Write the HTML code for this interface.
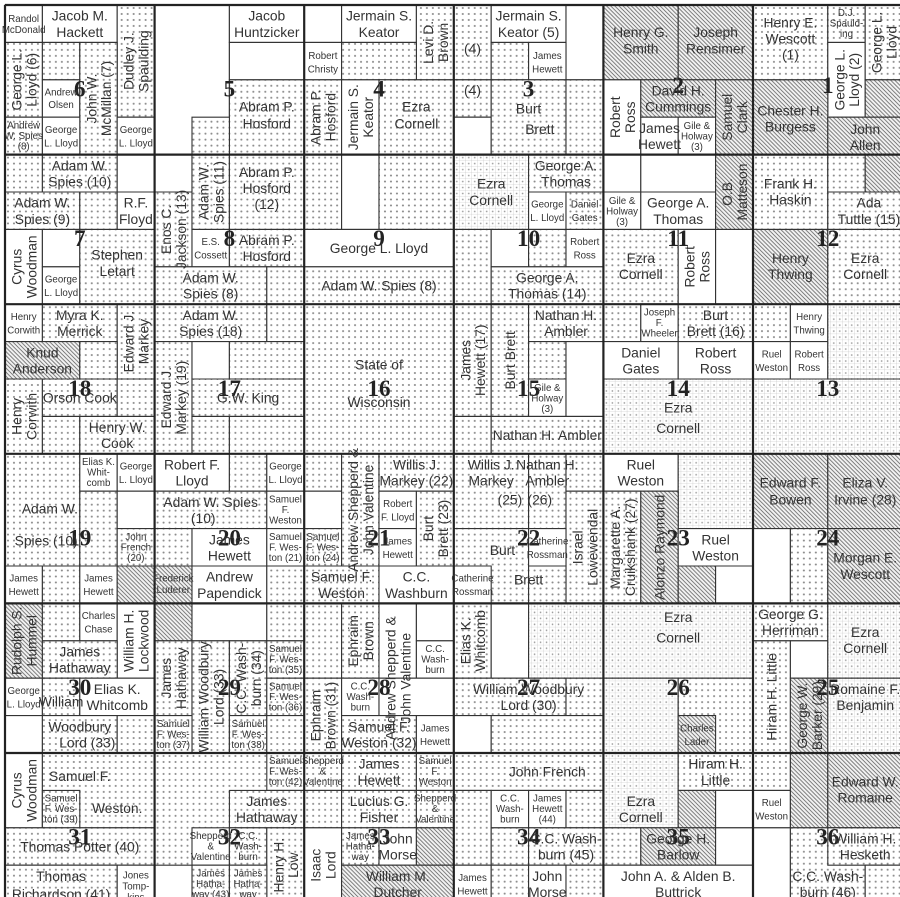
<!DOCTYPE html>
<html><head><meta charset="utf-8">
<style>
html,body{margin:0;padding:0;background:#fff;}
svg{display:block;}
text{font-family:"Liberation Sans",sans-serif;fill:#333;}
.t{font-size:0.37px;}
.s{font-size:0.26px;}
.n{font-family:"Liberation Serif",serif;font-size:0.62px;font-weight:bold;fill:#222;}
.d{fill:url(#pd);}
.h{fill:url(#ph);}
.g{fill:url(#pg);}
.w{fill:#fff;}
rect{stroke:#333;stroke-width:1.1px;vector-effect:non-scaling-stroke;}
line{stroke:#222;stroke-width:2.2px;vector-effect:non-scaling-stroke;}
</style></head><body>
<svg width="900" height="897" viewBox="0 0 900 897" xmlns="http://www.w3.org/2000/svg">
<defs>
<pattern id="pd" patternUnits="userSpaceOnUse" width="0.16" height="0.16"><rect x="0" y="0" width="0.16" height="0.16" fill="#fff" style="stroke:none"/><circle cx="0.08" cy="0.08" r="0.028" fill="#8a8a8a"/></pattern>
<pattern id="pg" patternUnits="userSpaceOnUse" width="0.16" height="0.16"><rect x="0" y="0" width="0.16" height="0.16" fill="#fff" style="stroke:none"/><path d="M0 0.16H0.16M0.16 0V0.16" stroke="#bbb" stroke-width="0.015" fill="none"/><circle cx="0.08" cy="0.08" r="0.022" fill="#999"/></pattern>
<pattern id="ph" patternUnits="userSpaceOnUse" width="0.11" height="0.11"><rect x="0" y="0" width="0.11" height="0.11" fill="#f2f2f2" style="stroke:none"/><path d="M-0.03 -0.03L0.14 0.14M-0.03 0.08L0.03 0.14M0.08 -0.03L0.14 0.03" stroke="#666" stroke-width="0.022" fill="none"/></pattern>
</defs>
<rect x="0" y="0" width="900" height="897" fill="#fff" style="stroke:none"/>
<g transform="translate(5,5) scale(37.4)">
<!-- sec 6 -->
<rect class="w" x="0" y="0" width="1" height="1"/><rect class="w" x="1" y="0" width="2" height="1"/><rect class="d" x="3" y="0" width="1" height="3"/><rect class="d" x="0" y="1" width="1" height="2"/><rect class="d" x="1" y="1" width="1" height="1"/><rect class="w" x="1" y="2" width="1" height="1"/><rect class="d" x="2" y="1" width="1" height="3"/><rect class="d" x="0" y="3" width="1" height="1"/><rect class="w" x="1" y="3" width="1" height="1"/><rect class="w" x="3" y="3" width="1" height="1"/>
<!-- sec 5 -->
<rect class="w" x="4" y="0" width="2" height="4"/><rect class="w" x="6" y="0" width="2" height="1"/><rect class="w" x="6" y="1" width="2" height="1"/><rect class="d" x="6" y="2" width="2" height="2"/><rect class="d" x="5" y="3" width="1" height="1"/>
<!-- sec 4 -->
<rect class="w" x="8" y="0" width="1" height="1"/><rect class="w" x="9" y="0" width="2" height="1"/><rect class="d" x="11" y="0" width="1" height="2"/><rect class="w" x="8" y="1" width="1" height="1"/><rect class="d" x="9" y="1" width="2" height="1"/><rect class="d" x="8" y="2" width="1" height="2"/><rect class="w" x="9" y="2" width="1" height="2"/><rect class="d" x="10" y="2" width="2" height="2"/>
<!-- sec 3 -->
<rect class="d" x="12" y="0" width="1" height="2"/><rect class="w" x="13" y="0" width="2" height="1"/><rect class="w" x="15" y="0" width="1" height="2"/><rect class="d" x="13" y="1" width="1" height="1"/><rect class="w" x="14" y="1" width="1" height="1"/><rect class="d" x="12" y="2" width="1" height="1"/><rect class="w" x="12" y="3" width="1" height="1"/><rect class="d" x="13" y="2" width="2" height="2"/><rect class="d" x="15" y="2" width="1" height="2"/>
<!-- sec 2 -->
<rect class="h" x="16" y="0" width="2" height="2"/><rect class="h" x="18" y="0" width="2" height="2"/><rect class="w" x="16" y="2" width="1" height="2"/><rect class="h" x="17" y="2" width="2" height="1"/><rect class="w" x="17" y="3" width="1" height="1"/><rect class="w" x="18" y="3" width="1" height="1"/><rect class="h" x="19" y="2" width="1" height="2"/>
<!-- sec 1 -->
<rect class="d" x="20" y="0" width="2" height="2"/><rect class="d" x="22" y="0" width="1" height="1"/><rect class="w" x="22" y="1" width="1" height="2"/><rect class="d" x="23" y="0" width="1" height="2"/><rect class="h" x="20" y="2" width="2" height="2"/><rect class="h" x="23" y="2" width="1" height="1"/><rect class="h" x="22" y="3" width="2" height="1"/>
<!-- sec 7 -->
<rect class="d" x="0" y="4" width="1" height="1"/><rect class="d" x="1" y="4" width="2" height="1"/><rect class="w" x="3" y="4" width="1" height="1"/><rect class="d" x="0" y="5" width="2" height="1"/><rect class="d" x="2" y="5" width="1" height="1"/><rect class="w" x="3" y="5" width="1" height="1"/><rect class="w" x="0" y="6" width="1" height="2"/><rect class="w" x="1" y="6" width="1" height="1"/><rect class="w" x="1" y="7" width="1" height="1"/><rect class="d" x="2" y="6" width="2" height="2"/>
<!-- sec 8 -->
<rect class="w" x="4" y="4" width="1" height="1"/><rect class="d" x="4" y="5" width="1" height="2"/><rect class="d" x="5" y="4" width="1" height="2"/><rect class="d" x="6" y="4" width="2" height="2"/><rect class="w" x="5" y="6" width="1" height="1"/><rect class="d" x="6" y="6" width="2" height="1"/><rect class="d" x="4" y="7" width="3" height="1"/><rect class="d" x="7" y="7" width="1" height="1"/>
<!-- sec 9 -->
<rect class="d" x="8" y="4" width="1" height="2"/><rect class="w" x="9" y="4" width="1" height="2"/><rect class="d" x="10" y="4" width="2" height="2"/><rect class="w" x="8" y="6" width="4" height="1"/><rect class="d" x="8" y="7" width="4" height="1"/>
<!-- sec 10 -->
<rect class="g" x="12" y="4" width="2" height="2"/><rect class="d" x="14" y="4" width="2" height="1"/><rect class="w" x="14" y="5" width="1" height="1"/><rect class="d" x="15" y="5" width="1" height="1"/><rect class="d" x="12" y="6" width="1" height="2"/><rect class="w" x="13" y="6" width="1" height="1"/><rect class="d" x="14" y="6" width="1" height="1"/><rect class="w" x="15" y="6" width="1" height="1"/><rect class="d" x="13" y="7" width="3" height="1"/>
<!-- sec 11 -->
<rect class="w" x="16" y="4" width="1" height="1"/><rect class="w" x="17" y="4" width="2" height="1"/><rect class="w" x="16" y="5" width="1" height="1"/><rect class="w" x="17" y="5" width="2" height="1"/><rect class="h" x="19" y="4" width="1" height="2"/><rect class="d" x="16" y="6" width="2" height="2"/><rect class="w" x="18" y="6" width="1" height="2"/><rect class="w" x="19" y="6" width="1" height="2"/>
<!-- sec 12 -->
<rect class="d" x="20" y="4" width="2" height="2"/><rect class="d" x="22" y="4" width="1" height="1"/><rect class="h" x="23" y="4" width="1" height="1"/><rect class="d" x="22" y="5" width="2" height="1"/><rect class="h" x="20" y="6" width="2" height="2"/><rect class="d" x="22" y="6" width="2" height="2"/>
<!-- sec 18 -->
<rect class="w" x="0" y="8" width="1" height="1"/><rect class="d" x="1" y="8" width="2" height="1"/><rect class="d" x="3" y="8" width="1" height="2"/><rect class="h" x="0" y="9" width="2" height="1"/><rect class="d" x="2" y="9" width="1" height="1"/><rect class="d" x="0" y="10" width="1" height="2"/><rect class="d" x="1" y="10" width="2" height="1"/><rect class="d" x="3" y="10" width="1" height="1"/><rect class="d" x="1" y="11" width="1" height="1"/><rect class="d" x="2" y="11" width="2" height="1"/>
<!-- sec 17 -->
<rect class="d" x="4" y="8" width="3" height="1"/><rect class="d" x="7" y="8" width="1" height="1"/><rect class="d" x="4" y="9" width="1" height="3"/><rect class="w" x="5" y="9" width="1" height="1"/><rect class="d" x="6" y="9" width="2" height="1"/><rect class="d" x="5" y="10" width="3" height="1"/><rect class="d" x="5" y="11" width="1" height="1"/><rect class="d" x="6" y="11" width="2" height="1"/>
<!-- sec 16 -->
<rect class="d" x="8" y="8" width="4" height="4"/>
<!-- sec 15 -->
<rect class="d" x="12" y="8" width="1" height="3"/><rect class="d" x="13" y="8" width="1" height="3"/><rect class="d" x="14" y="8" width="2" height="1"/><rect class="d" x="14" y="9" width="1" height="1"/><rect class="w" x="14" y="10" width="1" height="1"/><rect class="w" x="15" y="9" width="1" height="2"/><rect class="d" x="12" y="11" width="1" height="1"/><rect class="d" x="13" y="11" width="3" height="1"/>
<!-- sec 14 -->
<rect class="d" x="16" y="8" width="1" height="1"/><rect class="w" x="17" y="8" width="1" height="1"/><rect class="d" x="18" y="8" width="2" height="1"/><rect class="w" x="16" y="9" width="2" height="1"/><rect class="w" x="18" y="9" width="2" height="1"/><rect class="g" x="16" y="10" width="4" height="2"/>
<!-- sec 13 -->
<rect class="d" x="20" y="8" width="1" height="1"/><rect class="w" x="21" y="8" width="1" height="1"/><rect class="w" x="20" y="9" width="1" height="1"/><rect class="w" x="21" y="9" width="1" height="1"/><rect class="g" x="22" y="8" width="2" height="2"/><rect class="g" x="20" y="10" width="4" height="2"/>
<!-- sec 19 -->
<rect class="d" x="0" y="12" width="2" height="3"/><rect class="w" x="2" y="12" width="1" height="1"/><rect class="w" x="3" y="12" width="1" height="1"/><rect class="d" x="2" y="13" width="1" height="2"/><rect class="w" x="3" y="13" width="1" height="1"/><rect class="d" x="3" y="14" width="1" height="1"/><rect class="w" x="0" y="15" width="1" height="1"/><rect class="d" x="1" y="15" width="1" height="1"/><rect class="w" x="2" y="15" width="1" height="1"/><rect class="h" x="3" y="15" width="1" height="1"/>
<!-- sec 20 -->
<rect class="w" x="4" y="12" width="2" height="1"/><rect class="d" x="6" y="12" width="1" height="1"/><rect class="w" x="7" y="12" width="1" height="1"/><rect class="d" x="4" y="13" width="3" height="1"/><rect class="w" x="7" y="13" width="1" height="1"/><rect class="d" x="4" y="14" width="1" height="1"/><rect class="w" x="5" y="14" width="2" height="1"/><rect class="w" x="7" y="14" width="1" height="1"/><rect class="h" x="4" y="15" width="1" height="1"/><rect class="w" x="5" y="15" width="2" height="1"/><rect class="d" x="7" y="15" width="1" height="1"/>
<!-- sec 21 -->
<rect class="d" x="8" y="12" width="1" height="1"/><rect class="w" x="8" y="13" width="1" height="1"/><rect class="d" x="8" y="14" width="1" height="1"/><rect class="d" x="9" y="12" width="1" height="3"/><rect class="d" x="10" y="12" width="2" height="1"/><rect class="w" x="10" y="13" width="1" height="1"/><rect class="w" x="10" y="14" width="1" height="1"/><rect class="d" x="11" y="13" width="1" height="2"/><rect class="d" x="8" y="15" width="2" height="1"/><rect class="w" x="10" y="15" width="2" height="1"/>
<!-- sec 22 -->
<rect class="d" x="12" y="12" width="2" height="2"/><rect class="d" x="14" y="12" width="1" height="2"/><rect class="d" x="15" y="12" width="1" height="1"/><rect class="d" x="15" y="13" width="1" height="3"/><rect class="d" x="12" y="14" width="2" height="2"/><rect class="w" x="14" y="14" width="1" height="1"/><rect class="d" x="14" y="15" width="1" height="1"/><rect class="w" x="12" y="15" width="1" height="1"/>
<!-- sec 23 -->
<rect class="w" x="16" y="12" width="2" height="1"/><rect class="g" x="18" y="12" width="2" height="2"/><rect class="d" x="16" y="13" width="1" height="3"/><rect class="h" x="17" y="13" width="1" height="3"/><rect class="w" x="18" y="14" width="2" height="1"/><rect class="h" x="18" y="15" width="1" height="1"/><rect class="w" x="19" y="15" width="1" height="1"/>
<!-- sec 24 -->
<rect class="h" x="20" y="12" width="2" height="2"/><rect class="h" x="22" y="12" width="2" height="2"/><rect class="w" x="20" y="14" width="1" height="2"/><rect class="d" x="21" y="14" width="1" height="2"/><rect class="h" x="22" y="14" width="2" height="2"/>
<!-- sec 30 -->
<rect class="h" x="0" y="16" width="1" height="2"/><rect class="d" x="1" y="16" width="1" height="1"/><rect class="w" x="2" y="16" width="1" height="1"/><rect class="w" x="3" y="16" width="1" height="2"/><rect class="d" x="1" y="17" width="2" height="1"/><rect class="w" x="0" y="18" width="1" height="1"/><rect class="d" x="1" y="18" width="1" height="1"/><rect class="w" x="2" y="18" width="2" height="1"/><rect class="w" x="0" y="19" width="1" height="1"/><rect class="d" x="1" y="19" width="2" height="1"/><rect class="d" x="3" y="19" width="1" height="1"/>
<!-- sec 29 -->
<rect class="h" x="4" y="16" width="1" height="1"/><rect class="w" x="5" y="16" width="2" height="1"/><rect class="d" x="7" y="16" width="1" height="1"/><rect class="d" x="4" y="17" width="1" height="2"/><rect class="d" x="5" y="17" width="1" height="3"/><rect class="d" x="6" y="17" width="1" height="2"/><rect class="d" x="7" y="17" width="1" height="1"/><rect class="d" x="7" y="18" width="1" height="1"/><rect class="d" x="4" y="19" width="1" height="1"/><rect class="d" x="6" y="19" width="1" height="1"/><rect class="d" x="7" y="19" width="1" height="1"/>
<!-- sec 28 -->
<rect class="d" x="8" y="16" width="1" height="2"/><rect class="d" x="9" y="16" width="1" height="2"/><rect class="w" x="10" y="16" width="1" height="2"/><rect class="w" x="11" y="16" width="1" height="1"/><rect class="w" x="11" y="17" width="1" height="1"/><rect class="d" x="8" y="18" width="1" height="2"/><rect class="w" x="9" y="18" width="1" height="1"/><rect class="w" x="10" y="18" width="2" height="1"/><rect class="d" x="9" y="19" width="2" height="1"/><rect class="w" x="11" y="19" width="1" height="1"/>
<!-- sec 27 -->
<rect class="d" x="12" y="16" width="1" height="2"/><rect class="w" x="13" y="16" width="1" height="2"/><rect class="g" x="14" y="16" width="2" height="2"/><rect class="d" x="12" y="18" width="3" height="1"/><rect class="d" x="15" y="18" width="1" height="1"/><rect class="w" x="12" y="19" width="1" height="1"/><rect class="d" x="13" y="19" width="3" height="1"/>
<!-- sec 26 -->
<rect class="g" x="16" y="16" width="4" height="2"/><rect class="g" x="16" y="18" width="2" height="2"/><rect class="d" x="18" y="18" width="2" height="2"/><rect class="h" x="18" y="19" width="1" height="1"/>
<!-- sec 25 -->
<rect class="d" x="20" y="16" width="2" height="1"/><rect class="d" x="20" y="17" width="1" height="3"/><rect class="w" x="21" y="17" width="1" height="1"/><rect class="h" x="21" y="18" width="1" height="2"/><rect class="g" x="22" y="16" width="2" height="2"/><rect class="g" x="22" y="18" width="2" height="2"/>
<!-- sec 31 -->
<rect class="w" x="0" y="20" width="1" height="2"/><rect class="d" x="1" y="20" width="3" height="2"/><rect class="d" x="1" y="21" width="1" height="1"/><rect class="d" x="0" y="22" width="4" height="1"/><rect class="d" x="0" y="23" width="3" height="1"/><rect class="w" x="3" y="23" width="1" height="1"/>
<!-- sec 32 -->
<rect class="d" x="4" y="20" width="4" height="4"/><rect class="d" x="7" y="20" width="1" height="1"/><rect class="d" x="6" y="21" width="2" height="1"/><rect class="w" x="5" y="22" width="1" height="1"/><rect class="d" x="6" y="22" width="1" height="1"/><rect class="d" x="7" y="22" width="1" height="2"/><rect class="d" x="5" y="23" width="1" height="1"/><rect class="d" x="6" y="23" width="1" height="1"/><rect class="w" x="4" y="23" width="1" height="1"/>
<!-- sec 33 -->
<rect class="d" x="8" y="20" width="1" height="1"/><rect class="d" x="9" y="20" width="2" height="1"/><rect class="d" x="11" y="20" width="1" height="1"/><rect class="d" x="8" y="21" width="1" height="1"/><rect class="d" x="9" y="21" width="2" height="1"/><rect class="d" x="11" y="21" width="1" height="1"/><rect class="w" x="8" y="22" width="1" height="2"/><rect class="d" x="9" y="22" width="1" height="1"/><rect class="w" x="10" y="22" width="1" height="1"/><rect class="h" x="11" y="22" width="1" height="1"/><rect class="h" x="9" y="23" width="3" height="1"/>
<!-- sec 34 -->
<rect class="d" x="12" y="20" width="4" height="1"/><rect class="d" x="12" y="21" width="1" height="2"/><rect class="w" x="13" y="21" width="1" height="1"/><rect class="w" x="14" y="21" width="1" height="1"/><rect class="d" x="15" y="21" width="1" height="1"/><rect class="d" x="13" y="22" width="1" height="1"/><rect class="d" x="14" y="22" width="2" height="1"/><rect class="w" x="12" y="23" width="1" height="1"/><rect class="d" x="13" y="23" width="1" height="1"/><rect class="w" x="14" y="23" width="1" height="1"/><rect class="d" x="15" y="23" width="1" height="1"/>
<!-- sec 35 -->
<rect class="g" x="16" y="20" width="2" height="2"/><rect class="d" x="18" y="20" width="2" height="1"/><rect class="h" x="18" y="21" width="1" height="1"/><rect class="w" x="19" y="21" width="1" height="1"/><rect class="d" x="16" y="22" width="1" height="1"/><rect class="h" x="17" y="22" width="2" height="1"/><rect class="w" x="19" y="22" width="1" height="1"/><rect class="w" x="16" y="23" width="4" height="1"/>
<!-- sec 36 -->
<rect class="d" x="20" y="20" width="1" height="1"/><rect class="w" x="20" y="21" width="1" height="1"/><rect class="h" x="21" y="20" width="1" height="2"/><rect class="h" x="22" y="20" width="2" height="2"/><rect class="w" x="20" y="22" width="1" height="2"/><rect class="d" x="21" y="22" width="2" height="2"/><rect class="d" x="22" y="22" width="2" height="1"/><rect class="d" x="23" y="23" width="1" height="1"/>

<!-- section lines -->
<line x1="0" y1="0" x2="24" y2="0"/><line x1="0" y1="4" x2="24" y2="4"/><line x1="0" y1="8" x2="24" y2="8"/><line x1="0" y1="12" x2="24" y2="12"/><line x1="0" y1="16" x2="24" y2="16"/><line x1="0" y1="20" x2="24" y2="20"/>
<line x1="0" y1="0" x2="0" y2="24"/><line x1="4" y1="0" x2="4" y2="24"/><line x1="8" y1="0" x2="8" y2="24"/><line x1="12" y1="0" x2="12" y2="24"/><line x1="16" y1="0" x2="16" y2="24"/><line x1="20" y1="0" x2="20" y2="24"/><line x1="24" y1="0" x2="24" y2="24"/>

<!-- section numbers -->
<g text-anchor="middle">
<text class="n" x="2" y="2.45">6</text><text class="n" x="6" y="2.45">5</text><text class="n" x="10" y="2.45">4</text><text class="n" x="14" y="2.45">3</text><text class="n" x="18" y="2.35">2</text><text class="n" x="22" y="2.35">1</text>
<text class="n" x="2" y="6.45">7</text><text class="n" x="6" y="6.45">8</text><text class="n" x="10" y="6.45">9</text><text class="n" x="14" y="6.45">10</text><text class="n" x="18" y="6.45">11</text><text class="n" x="22" y="6.45">12</text>
<text class="n" x="2" y="10.45">18</text><text class="n" x="6" y="10.45">17</text><text class="n" x="10" y="10.45">16</text><text class="n" x="14" y="10.45">15</text><text class="n" x="18" y="10.45">14</text><text class="n" x="22" y="10.45">13</text>
<text class="n" x="2" y="14.45">19</text><text class="n" x="6" y="14.45">20</text><text class="n" x="10" y="14.45">21</text><text class="n" x="14" y="14.45">22</text><text class="n" x="18" y="14.45">23</text><text class="n" x="22" y="14.45">24</text>
<text class="n" x="2" y="18.45">30</text><text class="n" x="6" y="18.45">29</text><text class="n" x="10" y="18.45">28</text><text class="n" x="14" y="18.45">27</text><text class="n" x="18" y="18.45">26</text><text class="n" x="22" y="18.45">25</text>
<text class="n" x="2" y="22.45">31</text><text class="n" x="6" y="22.45">32</text><text class="n" x="10" y="22.45">33</text><text class="n" x="14" y="22.45">34</text><text class="n" x="18" y="22.45">35</text><text class="n" x="22" y="22.45">36</text>
</g>

<!-- labels -->
<g text-anchor="middle">
<!-- sec6 -->
<text class="s"><tspan x="0.5" y="0.45">Randol</tspan><tspan x="0.5" y="0.75">McDonald</tspan></text>
<text class="t"><tspan x="2" y="0.42">Jacob M.</tspan><tspan x="2" y="0.85">Hackett</tspan></text>
<text class="t" transform="translate(3.5,1.5) rotate(-90)"><tspan x="0" y="-0.06">Dudley J.</tspan><tspan x="0" y="0.34">Spaulding</tspan></text>
<text class="t" transform="translate(0.5,2) rotate(-90)"><tspan x="0" y="-0.06">George L.</tspan><tspan x="0" y="0.34">Lloyd (6)</tspan></text>
<text class="s"><tspan x="1.5" y="2.42">Andrew</tspan><tspan x="1.5" y="2.75">Olsen</tspan></text>
<text class="t" transform="translate(2.5,2.5) rotate(-90)"><tspan x="0" y="-0.06">John W.</tspan><tspan x="0" y="0.34">McMillan (7)</tspan></text>
<text class="s"><tspan x="0.5" y="3.3">Andrew</tspan><tspan x="0.5" y="3.58">W. Spies</tspan><tspan x="0.5" y="3.86">(8)</tspan></text>
<text class="s"><tspan x="1.5" y="3.42">George</tspan><tspan x="1.5" y="3.78">L. Lloyd</tspan></text>
<text class="s"><tspan x="3.5" y="3.42">George</tspan><tspan x="3.5" y="3.78">L. Lloyd</tspan></text>
<!-- sec5 -->
<text class="t"><tspan x="7" y="0.42">Jacob</tspan><tspan x="7" y="0.85">Huntzicker</tspan></text>
<text class="t"><tspan x="7" y="2.85">Abram P.</tspan><tspan x="7" y="3.3">Hosford</tspan></text>
<!-- sec4 -->
<text class="t"><tspan x="10" y="0.42">Jermain S.</tspan><tspan x="10" y="0.85">Keator</tspan></text>
<text class="t" transform="translate(11.5,1) rotate(-90)"><tspan x="0" y="-0.06">Levi D.</tspan><tspan x="0" y="0.34">Brown</tspan></text>
<text class="s"><tspan x="8.5" y="1.45">Robert</tspan><tspan x="8.5" y="1.8">Christy</tspan></text>
<text class="t" transform="translate(8.5,3) rotate(-90)"><tspan x="0" y="-0.06">Abram P.</tspan><tspan x="0" y="0.34">Hosford</tspan></text>
<text class="t" transform="translate(9.5,3) rotate(-90)"><tspan x="0" y="-0.06">Jermain S.</tspan><tspan x="0" y="0.34">Keator</tspan></text>
<text class="t"><tspan x="11" y="2.85">Ezra</tspan><tspan x="11" y="3.3">Cornell</tspan></text>
<!-- sec3 -->
<text class="t" x="12.5" y="1.3">(4)</text><text class="t" x="12.5" y="2.4">(4)</text>
<text class="t"><tspan x="14" y="0.42">Jermain S.</tspan><tspan x="14" y="0.85">Keator (5)</tspan></text>
<text class="s"><tspan x="14.5" y="1.45">James</tspan><tspan x="14.5" y="1.8">Hewett</tspan></text>
<text class="t"><tspan x="14" y="2.9">Burt</tspan><tspan x="14.3" y="3.45">Brett</tspan></text>
<!-- sec2 -->
<text class="t"><tspan x="17" y="0.85">Henry G.</tspan><tspan x="17" y="1.3">Smith</tspan></text>
<text class="t"><tspan x="19" y="0.85">Joseph</tspan><tspan x="19" y="1.3">Rensimer</tspan></text>
<text class="t" transform="translate(16.5,3) rotate(-90)"><tspan x="0" y="-0.06">Robert</tspan><tspan x="0" y="0.34">Ross</tspan></text>
<text class="t"><tspan x="18" y="2.42">David H.</tspan><tspan x="18" y="2.85">Cummings</tspan></text>
<text class="t"><tspan x="17.5" y="3.42">James</tspan><tspan x="17.5" y="3.85">Hewett</tspan></text>
<text class="s"><tspan x="18.5" y="3.32">Gile &amp;</tspan><tspan x="18.5" y="3.6">Holway</tspan><tspan x="18.5" y="3.88">(3)</tspan></text>
<text class="t" transform="translate(19.5,3) rotate(-90)"><tspan x="0" y="-0.06">Samuel</tspan><tspan x="0" y="0.34">Clark</tspan></text>
<!-- sec1 -->
<text class="t"><tspan x="21" y="0.6">Henry E.</tspan><tspan x="21" y="1.03">Wescott</tspan><tspan x="21" y="1.46">(1)</tspan></text>
<text class="s"><tspan x="22.5" y="0.3">D.J.</tspan><tspan x="22.5" y="0.58">Spauld-</tspan><tspan x="22.5" y="0.86">ing</tspan></text>
<text class="t" transform="translate(22.5,2) rotate(-90)"><tspan x="0" y="-0.06">George L.</tspan><tspan x="0" y="0.34">Lloyd (2)</tspan></text>
<text class="t" transform="translate(23.5,1) rotate(-90)"><tspan x="0" y="-0.06">George L.</tspan><tspan x="0" y="0.34">Lloyd</tspan></text>
<text class="t"><tspan x="21" y="2.95">Chester H.</tspan><tspan x="21" y="3.38">Burgess</tspan></text>
<text class="t"><tspan x="23" y="3.45">John</tspan><tspan x="23" y="3.88">Allen</tspan></text>
<!-- sec7 -->
<text class="t"><tspan x="2" y="4.42">Adam W.</tspan><tspan x="2" y="4.85">Spies (10)</tspan></text>
<text class="t"><tspan x="1" y="5.42">Adam W.</tspan><tspan x="1" y="5.85">Spies (9)</tspan></text>
<text class="t"><tspan x="3.5" y="5.42">R.F.</tspan><tspan x="3.5" y="5.85">Floyd</tspan></text>
<text class="t" transform="translate(0.5,7) rotate(-90)"><tspan x="0" y="-0.06">Cyrus</tspan><tspan x="0" y="0.34">Woodman</tspan></text>
<text class="t"><tspan x="3" y="6.8">Stephen</tspan><tspan x="3" y="7.25">Letart</tspan></text>
<text class="s"><tspan x="1.5" y="7.42">George</tspan><tspan x="1.5" y="7.78">L. Lloyd</tspan></text>
<!-- sec8 -->
<text class="t" transform="translate(4.5,6) rotate(-90)"><tspan x="0" y="-0.06">Enos C.</tspan><tspan x="0" y="0.34">Jackson (13)</tspan></text>
<text class="t" transform="translate(5.5,5) rotate(-90)"><tspan x="0" y="-0.06">Adam W.</tspan><tspan x="0" y="0.34">Spies (11)</tspan></text>
<text class="t"><tspan x="7" y="4.6">Abram P.</tspan><tspan x="7" y="5.03">Hosford</tspan><tspan x="7" y="5.46">(12)</tspan></text>
<text class="s"><tspan x="5.5" y="6.42">E.S.</tspan><tspan x="5.5" y="6.78">Cossett</tspan></text>
<text class="t"><tspan x="7" y="6.42">Abram P.</tspan><tspan x="7" y="6.85">Hosford</tspan></text>
<text class="t"><tspan x="5.5" y="7.42">Adam W.</tspan><tspan x="5.5" y="7.85">Spies (8)</tspan></text>
<!-- sec9 -->
<text class="t" x="10" y="6.63">George L. Lloyd</text>
<text class="t" x="10" y="7.63">Adam W. Spies (8)</text>
<!-- sec10 -->
<text class="t"><tspan x="13" y="4.9">Ezra</tspan><tspan x="13" y="5.35">Cornell</tspan></text>
<text class="t"><tspan x="15" y="4.42">George A.</tspan><tspan x="15" y="4.85">Thomas</tspan></text>
<text class="s"><tspan x="14.5" y="5.42">George</tspan><tspan x="14.5" y="5.78">L. Lloyd</tspan></text>
<text class="s"><tspan x="15.5" y="5.42">Daniel</tspan><tspan x="15.5" y="5.78">Gates</tspan></text>
<text class="s"><tspan x="15.5" y="6.42">Robert</tspan><tspan x="15.5" y="6.78">Ross</tspan></text>
<text class="t"><tspan x="14.5" y="7.42">George A.</tspan><tspan x="14.5" y="7.85">Thomas (14)</tspan></text>
<!-- sec11 -->
<text class="s"><tspan x="16.5" y="5.32">Gile &amp;</tspan><tspan x="16.5" y="5.6">Holway</tspan><tspan x="16.5" y="5.88">(3)</tspan></text>
<text class="t"><tspan x="18" y="5.42">George A.</tspan><tspan x="18" y="5.85">Thomas</tspan></text>
<text class="t" transform="translate(19.5,5) rotate(-90)"><tspan x="0" y="-0.06">O.B.</tspan><tspan x="0" y="0.34">Matteson</tspan></text>
<text class="t"><tspan x="17" y="6.9">Ezra</tspan><tspan x="17" y="7.33">Cornell</tspan></text>
<text class="t" transform="translate(18.5,7) rotate(-90)"><tspan x="0" y="-0.06">Robert</tspan><tspan x="0" y="0.34">Ross</tspan></text>
<!-- sec12 -->
<text class="t"><tspan x="21" y="4.9">Frank H.</tspan><tspan x="21" y="5.33">Haskin</tspan></text>
<text class="t"><tspan x="23.1" y="5.42">Ada</tspan><tspan x="23.1" y="5.85">Tuttle (15)</tspan></text>
<text class="t"><tspan x="21" y="6.9">Henry</tspan><tspan x="21" y="7.33">Thwing</tspan></text>
<text class="t"><tspan x="23" y="6.9">Ezra</tspan><tspan x="23" y="7.33">Cornell</tspan></text>
<!-- sec18 -->
<text class="s"><tspan x="0.5" y="8.42">Henry</tspan><tspan x="0.5" y="8.78">Corwith</tspan></text>
<text class="t"><tspan x="2" y="8.42">Myra K.</tspan><tspan x="2" y="8.85">Merrick</tspan></text>
<text class="t" transform="translate(3.5,9) rotate(-90)"><tspan x="0" y="-0.06">Edward J.</tspan><tspan x="0" y="0.34">Markey</tspan></text>
<text class="t"><tspan x="1" y="9.42">Knud</tspan><tspan x="1" y="9.85">Anderson</tspan></text>
<text class="t" transform="translate(0.5,11) rotate(-90)"><tspan x="0" y="-0.06">Henry</tspan><tspan x="0" y="0.34">Corwith</tspan></text>
<text class="t" x="2" y="10.63">Orson  Cook</text>
<text class="t"><tspan x="3" y="11.42">Henry W.</tspan><tspan x="3" y="11.85">Cook</tspan></text>
<!-- sec17 -->
<text class="t"><tspan x="5.5" y="8.42">Adam W.</tspan><tspan x="5.5" y="8.85">Spies (18)</tspan></text>
<text class="t" transform="translate(4.5,10.5) rotate(-90)"><tspan x="0" y="-0.06">Edward J.</tspan><tspan x="0" y="0.34">Markey (19)</tspan></text>
<text class="t" x="6.5" y="10.63">G.W. King</text>
<!-- sec16 -->
<text class="t"><tspan x="10" y="9.75">State of</tspan><tspan x="10" y="10.75">Wisconsin</tspan></text>
<!-- sec15 -->
<text class="t" transform="translate(12.5,9.5) rotate(-90)"><tspan x="0" y="-0.06">James</tspan><tspan x="0" y="0.34">Hewett (17)</tspan></text>
<text class="t" transform="translate(13.5,9.5) rotate(-90)"><tspan x="0" y="0.13">Burt Brett</tspan></text>
<text class="t"><tspan x="15" y="8.42">Nathan H.</tspan><tspan x="15" y="8.85">Ambler</tspan></text>
<text class="s"><tspan x="14.5" y="10.32">Gile &amp;</tspan><tspan x="14.5" y="10.6">Holway</tspan><tspan x="14.5" y="10.88">(3)</tspan></text>
<text class="t" x="14.5" y="11.63">Nathan H. Ambler</text>
<!-- sec14 -->
<text class="s"><tspan x="17.5" y="8.3">Joseph</tspan><tspan x="17.5" y="8.58">F.</tspan><tspan x="17.5" y="8.86">Wheeler</tspan></text>
<text class="t"><tspan x="19" y="8.42">Burt</tspan><tspan x="19" y="8.85">Brett (16)</tspan></text>
<text class="t"><tspan x="17" y="9.42">Daniel</tspan><tspan x="17" y="9.85">Gates</tspan></text>
<text class="t"><tspan x="19" y="9.42">Robert</tspan><tspan x="19" y="9.85">Ross</tspan></text>
<text class="t"><tspan x="18" y="10.9">Ezra</tspan><tspan x="18" y="11.45">Cornell</tspan></text>
<!-- sec13 -->
<text class="s"><tspan x="21.5" y="8.42">Henry</tspan><tspan x="21.5" y="8.78">Thwing</tspan></text>
<text class="s"><tspan x="20.5" y="9.42">Ruel</tspan><tspan x="20.5" y="9.78">Weston</tspan></text>
<text class="s"><tspan x="21.5" y="9.42">Robert</tspan><tspan x="21.5" y="9.78">Ross</tspan></text>
<!-- sec19 -->
<text class="s"><tspan x="2.5" y="12.3">Elias K.</tspan><tspan x="2.5" y="12.58">Whit-</tspan><tspan x="2.5" y="12.86">comb</tspan></text>
<text class="s"><tspan x="3.5" y="12.42">George</tspan><tspan x="3.5" y="12.78">L. Lloyd</tspan></text>
<text class="t"><tspan x="1.2" y="13.6">Adam W.</tspan><tspan x="1.1" y="14.45">Spies (10)</tspan></text>
<text class="s"><tspan x="3.5" y="14.3">John</tspan><tspan x="3.5" y="14.58">French</tspan><tspan x="3.5" y="14.86">(20)</tspan></text>
<text class="s"><tspan x="0.5" y="15.42">James</tspan><tspan x="0.5" y="15.78">Hewett</tspan></text>
<text class="s"><tspan x="2.5" y="15.42">James</tspan><tspan x="2.5" y="15.78">Hewett</tspan></text>
<!-- sec20 -->
<text class="t"><tspan x="5" y="12.42">Robert F.</tspan><tspan x="5" y="12.85">Lloyd</tspan></text>
<text class="s"><tspan x="7.5" y="12.42">George</tspan><tspan x="7.5" y="12.78">L. Lloyd</tspan></text>
<text class="t"><tspan x="5.5" y="13.42">Adam W. Spies</tspan><tspan x="5.3" y="13.85">(10)</tspan></text>
<text class="s"><tspan x="7.5" y="13.3">Samuel</tspan><tspan x="7.5" y="13.58">F.</tspan><tspan x="7.5" y="13.86">Weston</tspan></text>
<text class="t"><tspan x="6" y="14.42">James</tspan><tspan x="6" y="14.85">Hewett</tspan></text>
<text class="s"><tspan x="7.5" y="14.3">Samuel</tspan><tspan x="7.5" y="14.58">F. Wes-</tspan><tspan x="7.5" y="14.86">ton (21)</tspan></text>
<text class="s"><tspan x="4.5" y="15.42">Frederick</tspan><tspan x="4.5" y="15.72">Luderer</tspan></text>
<text class="t"><tspan x="6" y="15.42">Andrew</tspan><tspan x="6" y="15.85">Papendick</tspan></text>
<!-- sec21 -->
<text class="s"><tspan x="8.5" y="14.3">Samuel</tspan><tspan x="8.5" y="14.58">F. Wes-</tspan><tspan x="8.5" y="14.86">ton (24)</tspan></text>
<text class="t" transform="translate(9.5,13.5) rotate(-90)"><tspan x="0" y="-0.06">Andrew Shepperd &amp;</tspan><tspan x="0" y="0.34">John Valentine</tspan></text>
<text class="t"><tspan x="11" y="12.42">Willis J.</tspan><tspan x="11" y="12.85">Markey (22)</tspan></text>
<text class="s"><tspan x="10.5" y="13.42">Robert</tspan><tspan x="10.5" y="13.78">F. Lloyd</tspan></text>
<text class="s"><tspan x="10.5" y="14.42">James</tspan><tspan x="10.5" y="14.78">Hewett</tspan></text>
<text class="t" transform="translate(11.5,14) rotate(-90)"><tspan x="0" y="-0.06">Burt</tspan><tspan x="0" y="0.34">Brett (23)</tspan></text>
<text class="t"><tspan x="9" y="15.42">Samuel F.</tspan><tspan x="9" y="15.85">Weston</tspan></text>
<text class="t"><tspan x="11" y="15.42">C.C.</tspan><tspan x="11" y="15.85">Washburn</tspan></text>
<!-- sec22 -->
<text class="t"><tspan x="13" y="12.42">Willis J.</tspan><tspan x="13" y="12.85">Markey</tspan><tspan x="13.5" y="13.35">(25)</tspan></text>
<text class="t"><tspan x="14.5" y="12.42">Nathan H.</tspan><tspan x="14.5" y="12.85">Ambler</tspan><tspan x="14.3" y="13.35">(26)</tspan></text>
<text class="s"><tspan x="14.5" y="14.42">Catherine</tspan><tspan x="14.5" y="14.78">Rossman</tspan></text>
<text class="s"><tspan x="12.5" y="15.42">Catherine</tspan><tspan x="12.5" y="15.78">Rossman</tspan></text>
<text class="t" x="13.3" y="14.7">Burt</text><text class="t" x="14" y="15.5">Brett</text>
<text class="t" transform="translate(15.5,14.5) rotate(-90)"><tspan x="0" y="-0.06">Israel</tspan><tspan x="0" y="0.34">Lowewendal</tspan></text>
<!-- sec23 -->
<text class="t"><tspan x="17" y="12.42">Ruel</tspan><tspan x="17" y="12.85">Weston</tspan></text>
<text class="t" transform="translate(16.5,14.5) rotate(-90)"><tspan x="0" y="-0.06">Margarette A.</tspan><tspan x="0" y="0.34">Cruikshank (27)</tspan></text>
<text class="t" transform="translate(17.5,14.5) rotate(-90)"><tspan x="0" y="0.13">Alonzo Raymond</tspan></text>
<text class="t"><tspan x="19" y="14.42">Ruel</tspan><tspan x="19" y="14.85">Weston</tspan></text>
<!-- sec24 -->
<text class="t"><tspan x="21" y="12.9">Edward F.</tspan><tspan x="21" y="13.35">Bowen</tspan></text>
<text class="t"><tspan x="23" y="12.9">Eliza V.</tspan><tspan x="23" y="13.35">Irvine (28)</tspan></text>
<text class="t"><tspan x="23" y="14.9">Morgan E.</tspan><tspan x="23" y="15.35">Wescott</tspan></text>
<!-- sec30 -->
<text class="t" transform="translate(0.5,17) rotate(-90)"><tspan x="0" y="-0.06">Rudolph S.</tspan><tspan x="0" y="0.34">Hummel</tspan></text>
<text class="s"><tspan x="2.5" y="16.42">Charles</tspan><tspan x="2.5" y="16.78">Chase</tspan></text>
<text class="t" transform="translate(3.5,17) rotate(-90)"><tspan x="0" y="-0.06">William H.</tspan><tspan x="0" y="0.34">Lockwood</tspan></text>
<text class="t"><tspan x="2" y="17.42">James</tspan><tspan x="2" y="17.85">Hathaway</tspan></text>
<text class="s"><tspan x="0.5" y="18.42">George</tspan><tspan x="0.5" y="18.78">L. Lloyd</tspan></text>
<text class="t" x="1.5" y="18.75">William</text>
<text class="t"><tspan x="3" y="18.42">Elias K.</tspan><tspan x="3" y="18.85">Whitcomb</tspan></text>
<text class="t"><tspan x="2" y="19.42">Woodbury</tspan><tspan x="2.2" y="19.85">Lord (33)</tspan></text>
<!-- sec29 -->
<text class="t" transform="translate(4.5,18) rotate(-90)"><tspan x="0" y="-0.06">James</tspan><tspan x="0" y="0.34">Hathaway</tspan></text>
<text class="t" transform="translate(5.5,18.5) rotate(-90)"><tspan x="0" y="-0.06">William Woodbury</tspan><tspan x="0" y="0.34">Lord (33)</tspan></text>
<text class="t" transform="translate(6.5,18) rotate(-90)"><tspan x="0" y="-0.06">C.C. Wash-</tspan><tspan x="0" y="0.34">burn (34)</tspan></text>
<text class="s"><tspan x="7.5" y="17.3">Samuel</tspan><tspan x="7.5" y="17.58">F. Wes-</tspan><tspan x="7.5" y="17.86">ton (35)</tspan></text>
<text class="s"><tspan x="7.5" y="18.3">Samuel</tspan><tspan x="7.5" y="18.58">F. Wes-</tspan><tspan x="7.5" y="18.86">ton (36)</tspan></text>
<text class="s"><tspan x="4.5" y="19.3">Samuel</tspan><tspan x="4.5" y="19.58">F. Wes-</tspan><tspan x="4.5" y="19.86">ton (37)</tspan></text>
<text class="s"><tspan x="6.5" y="19.3">Samuel</tspan><tspan x="6.5" y="19.58">F. Wes-</tspan><tspan x="6.5" y="19.86">ton (38)</tspan></text>
<!-- sec28 -->
<text class="t" transform="translate(9.5,17) rotate(-90)"><tspan x="0" y="-0.06">Ephraim</tspan><tspan x="0" y="0.34">Brown</tspan></text>
<text class="t" transform="translate(10.5,18) rotate(-90)"><tspan x="0" y="-0.06">Andrew Shepperd &amp;</tspan><tspan x="0" y="0.34">John Valentine</tspan></text>
<text class="s"><tspan x="11.5" y="17.3">C.C.</tspan><tspan x="11.5" y="17.58">Wash-</tspan><tspan x="11.5" y="17.86">burn</tspan></text>
<text class="t" transform="translate(8.5,19) rotate(-90)"><tspan x="0" y="-0.06">Ephraim</tspan><tspan x="0" y="0.34">Brown (31)</tspan></text>
<text class="s"><tspan x="9.5" y="18.3">C.C.</tspan><tspan x="9.5" y="18.58">Wash-</tspan><tspan x="9.5" y="18.86">burn</tspan></text>
<text class="t"><tspan x="10" y="19.42">Samuel F.</tspan><tspan x="10" y="19.85">Weston (32)</tspan></text>
<text class="s"><tspan x="11.5" y="19.42">James</tspan><tspan x="11.5" y="19.78">Hewett</tspan></text>
<!-- sec27 -->
<text class="t" transform="translate(12.5,17) rotate(-90)"><tspan x="0" y="-0.06">Elias K.</tspan><tspan x="0" y="0.34">Whitcomb</tspan></text>
<text class="t"><tspan x="14" y="18.42">William Woodbury</tspan><tspan x="14" y="18.85">Lord (30)</tspan></text>
<!-- sec26 -->
<text class="t"><tspan x="18" y="16.5">Ezra</tspan><tspan x="18" y="17.05">Cornell</tspan></text>
<text class="s"><tspan x="18.5" y="19.42">Charles</tspan><tspan x="18.5" y="19.78">Lader</tspan></text>
<!-- sec25 -->
<text class="t"><tspan x="21" y="16.42">George G.</tspan><tspan x="21" y="16.85">Herriman</tspan></text>
<text class="t" transform="translate(20.5,18.5) rotate(-90)"><tspan x="0" y="0.13">Hiram H. Little</tspan></text>
<text class="t" transform="translate(21.5,19) rotate(-90)"><tspan x="0" y="-0.06">George W.</tspan><tspan x="0" y="0.34">Barker (29)</tspan></text>
<text class="t"><tspan x="23" y="16.9">Ezra</tspan><tspan x="23" y="17.33">Cornell</tspan></text>
<text class="t"><tspan x="23" y="18.42">Romaine F.</tspan><tspan x="23" y="18.85">Benjamin</tspan></text>
<!-- sec31 -->
<text class="t" transform="translate(0.5,21) rotate(-90)"><tspan x="0" y="-0.06">Cyrus</tspan><tspan x="0" y="0.34">Woodman</tspan></text>
<text class="t" x="2" y="20.75">Samuel F.</text>
<text class="t" x="3" y="21.6">Weston.</text>
<text class="s"><tspan x="1.5" y="21.3">Samuel</tspan><tspan x="1.5" y="21.58">F. Wes-</tspan><tspan x="1.5" y="21.86">ton (39)</tspan></text>
<text class="t" x="2" y="22.63">Thomas Potter (40)</text>
<text class="t"><tspan x="1.5" y="23.42">Thomas</tspan><tspan x="1.5" y="23.9">Richardson (41)</tspan></text>
<text class="s"><tspan x="3.5" y="23.35">Jones</tspan><tspan x="3.5" y="23.65">Tomp-</tspan><tspan x="3.5" y="23.95">kins</tspan></text>
<!-- sec32 -->
<text class="s"><tspan x="7.5" y="20.3">Samuel</tspan><tspan x="7.5" y="20.58">F. Wes-</tspan><tspan x="7.5" y="20.86">ton (42)</tspan></text>
<text class="t"><tspan x="7" y="21.42">James</tspan><tspan x="7" y="21.85">Hathaway</tspan></text>
<text class="s"><tspan x="5.5" y="22.3">Shepperd</tspan><tspan x="5.5" y="22.58">&amp;</tspan><tspan x="5.5" y="22.86">Valentine</tspan></text>
<text class="s"><tspan x="6.5" y="22.3">C.C.</tspan><tspan x="6.5" y="22.58">Wash-</tspan><tspan x="6.5" y="22.86">burn</tspan></text>
<text class="t" transform="translate(7.5,23) rotate(-90)"><tspan x="0" y="-0.06">Henry H.</tspan><tspan x="0" y="0.34">Low</tspan></text>
<text class="s"><tspan x="5.5" y="23.3">James</tspan><tspan x="5.5" y="23.58">Hatha-</tspan><tspan x="5.5" y="23.86">way (43)</tspan></text>
<text class="s"><tspan x="6.5" y="23.3">James</tspan><tspan x="6.5" y="23.58">Hatha-</tspan><tspan x="6.5" y="23.86">way</tspan></text>
<!-- sec33 -->
<text class="s"><tspan x="8.5" y="20.3">Shepperd</tspan><tspan x="8.5" y="20.58">&amp;</tspan><tspan x="8.5" y="20.86">Valentine</tspan></text>
<text class="t"><tspan x="10" y="20.42">James</tspan><tspan x="10" y="20.85">Hewett</tspan></text>
<text class="s"><tspan x="11.5" y="20.3">Samuel</tspan><tspan x="11.5" y="20.58">F.</tspan><tspan x="11.5" y="20.86">Weston</tspan></text>
<text class="t"><tspan x="10" y="21.42">Lucius G.</tspan><tspan x="10" y="21.85">Fisher</tspan></text>
<text class="s"><tspan x="11.5" y="21.3">Shepperd</tspan><tspan x="11.5" y="21.58">&amp;</tspan><tspan x="11.5" y="21.86">Valentine</tspan></text>
<text class="t" transform="translate(8.5,23) rotate(-90)"><tspan x="0" y="-0.06">Isaac</tspan><tspan x="0" y="0.34">Lord</tspan></text>
<text class="s"><tspan x="9.5" y="22.3">James</tspan><tspan x="9.5" y="22.58">Hatha-</tspan><tspan x="9.5" y="22.86">way</tspan></text>
<text class="t"><tspan x="10.5" y="22.42">John</tspan><tspan x="10.5" y="22.85">Morse</tspan></text>
<text class="t"><tspan x="10.5" y="23.42">William M.</tspan><tspan x="10.5" y="23.85">Dutcher</tspan></text>
<!-- sec34 -->
<text class="t" x="14.5" y="20.63">John French</text>
<text class="s"><tspan x="13.5" y="21.3">C.C.</tspan><tspan x="13.5" y="21.58">Wash-</tspan><tspan x="13.5" y="21.86">burn</tspan></text>
<text class="s"><tspan x="14.5" y="21.3">James</tspan><tspan x="14.5" y="21.58">Hewett</tspan><tspan x="14.5" y="21.86">(44)</tspan></text>
<text class="t"><tspan x="15" y="22.42">C.C. Wash-</tspan><tspan x="15" y="22.85">burn (45)</tspan></text>
<text class="s"><tspan x="12.5" y="23.42">James</tspan><tspan x="12.5" y="23.78">Hewett</tspan></text>
<text class="t"><tspan x="14.5" y="23.42">John</tspan><tspan x="14.5" y="23.85">Morse</tspan></text>
<!-- sec35 -->
<text class="t"><tspan x="17" y="21.42">Ezra</tspan><tspan x="17" y="21.85">Cornell</tspan></text>
<text class="t"><tspan x="19" y="20.42">Hiram H.</tspan><tspan x="19" y="20.85">Little</tspan></text>
<text class="t"><tspan x="18" y="22.42">George H.</tspan><tspan x="18" y="22.85">Barlow</tspan></text>
<text class="t"><tspan x="18" y="23.42">John A. &amp; Alden B.</tspan><tspan x="18" y="23.85">Buttrick</tspan></text>
<!-- sec36 -->
<text class="s"><tspan x="20.5" y="21.42">Ruel</tspan><tspan x="20.5" y="21.78">Weston</tspan></text>
<text class="t"><tspan x="23" y="20.9">Edward W.</tspan><tspan x="23" y="21.33">Romaine</tspan></text>
<text class="t"><tspan x="23" y="22.42">William H.</tspan><tspan x="23" y="22.85">Hesketh</tspan></text>
<text class="t"><tspan x="22" y="23.42">C.C. Wash-</tspan><tspan x="22" y="23.85">burn (46)</tspan></text>
</g>
</g>
</svg>
</body></html>
